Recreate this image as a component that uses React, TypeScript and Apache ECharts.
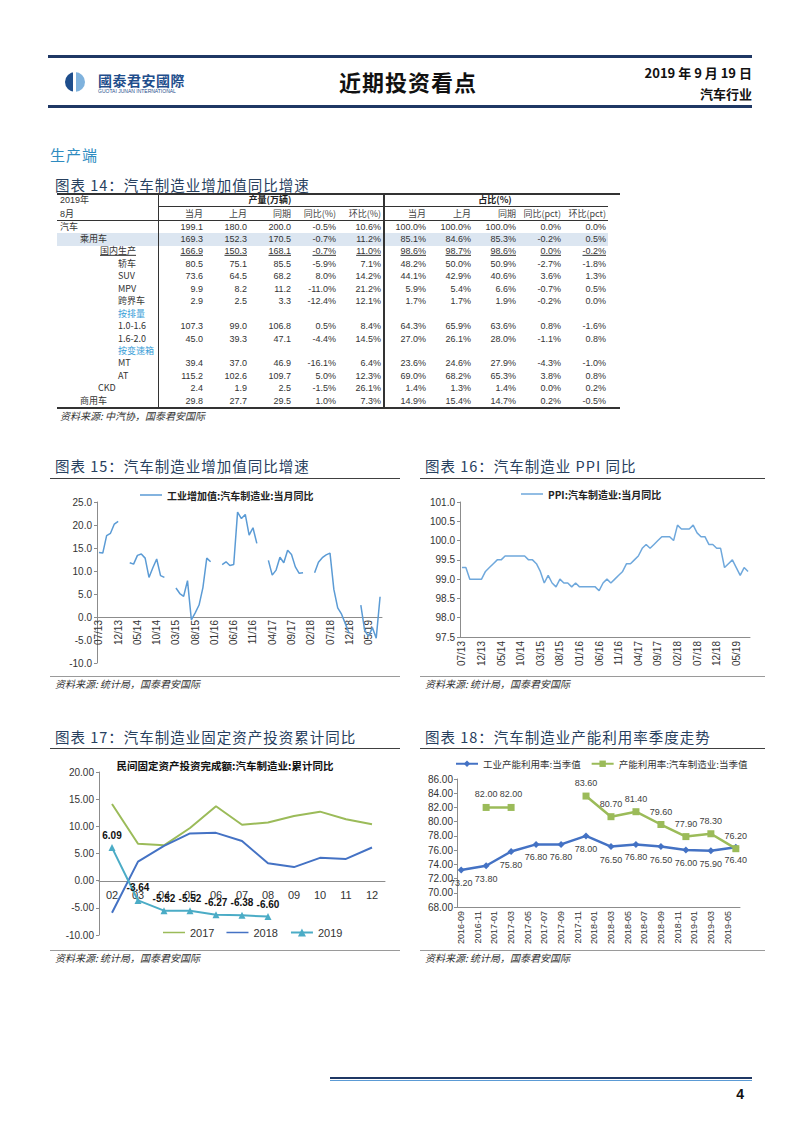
import React, { useEffect, useRef } from 'react';
import * as echarts from 'echarts';

const CJK = '"Noto Sans CJK SC", sans-serif';
const NUM = '"Liberation Sans", "Noto Sans CJK SC", sans-serif';

// ---------------- Table 14 data ----------------
const tableRowLabels = ['汽车', '乘用车', '国内生产', '轿车', 'SUV', 'MPV', '跨界车', '按排量', '1.0-1.6', '1.6-2.0', '按变速箱', 'MT', 'AT', 'CKD', '商用车'];
const prodHeaders = ['当月', '上月', '同期', '同比(%)', '环比(%)'];
const shareHeaders = ['当月', '上月', '同期', '同比(pct)', '环比(pct)'];
const prodThisMonth = [199.1, 169.3, 166.9, 80.5, 73.6, 9.9, 2.9, null, 107.3, 45.0, null, 39.4, 115.2, 2.4, 29.8];
const prodLastMonth = [180.0, 152.3, 150.3, 75.1, 64.5, 8.2, 2.5, null, 99.0, 39.3, null, 37.0, 102.6, 1.9, 27.7];
const prodLastYear = [200.0, 170.5, 168.1, 85.5, 68.2, 11.2, 3.3, null, 106.8, 47.1, null, 46.9, 109.7, 2.5, 29.5];
const prodYoY = [-0.5, -0.7, -0.7, -5.9, 8.0, -11.0, -12.4, null, 0.5, -4.4, null, -16.1, 5.0, -1.5, 1.0];
const prodMoM = [10.6, 11.2, 11.0, 7.1, 14.2, 21.2, 12.1, null, 8.4, 14.5, null, 6.4, 12.3, 26.1, 7.3];
const shareThisMonth = [100.0, 85.1, 98.6, 48.2, 44.1, 5.9, 1.7, null, 64.3, 27.0, null, 23.6, 69.0, 1.4, 14.9];
const shareLastMonth = [100.0, 84.6, 98.7, 50.0, 42.9, 5.4, 1.7, null, 65.9, 26.1, null, 24.6, 68.2, 1.3, 15.4];
const shareLastYear = [100.0, 85.3, 98.6, 50.9, 40.6, 6.6, 1.9, null, 63.6, 28.0, null, 27.9, 65.3, 1.4, 14.7];
const shareYoY = [0.0, -0.2, 0.0, -2.7, 3.6, -0.7, -0.2, null, 0.8, -1.1, null, -4.3, 3.8, 0.0, 0.2];
const shareMoM = [0.0, 0.5, -0.2, -1.8, 1.3, 0.5, 0.0, null, -1.6, 0.8, null, -1.0, 0.8, 0.2, -0.5];

// layout for the table (positions, not data)
const rowLabelX = [60, 80, 100, 118, 118, 118, 118, 118, 118, 118, 118, 118, 118, 98, 80];
const prodColX = [203, 247, 291, 336, 381];
const shareColX = [426, 471, 516, 561, 606];

// ---------------- Chart 15 / 16 data ----------------
function monthLabels(y0: number, m0: number, n: number, style: 'mmyy' | 'yyyymm') {
  const out: string[] = [];
  let y = y0, m = m0;
  for (let i = 0; i < n; i++) {
    const mm = String(m).padStart(2, '0');
    out.push(style === 'mmyy' ? `${mm}/${String(y).slice(2)}` : `${y}-${mm}`);
    m++;
    if (m > 12) { m = 1; y++; }
  }
  return out;
}
const monthly = monthLabels(2013, 7, 74, 'mmyy');
const ivaName = '工业增加值:汽车制造业:当月同比';
const ivaYoY = [
  14.0, 13.9, 17.7, 18.2, 20.2, 20.8,
  null, null, 11.8, 11.5, 13.4, 13.7, 12.8, 8.6, 10.7, 12.6, 9.0, 8.6,
  null, null, 6.3, 5.1, 4.5, 7.9, -0.6, 0.9, 2.6, 6.4, 12.8, 12.0,
  null, null, 11.4, 12.0, 11.2, 11.4, 22.8, 21.4, 22.3, 17.8, 19.4, 16.0,
  null, null, 12.3, 9.1, 10.2, 13.0, 11.8, 14.5, 13.6, 10.9, 9.5, 9.6,
  null, null, 9.6, 11.9, 12.9, 13.5, 13.9, 6.0, 2.0, 0.6, -1.5, -3.6,
  null, null, 2.6, -2.9, -4.2, -2.3, -4.6, 4.4,
];
const ppiName = 'PPI:汽车制造业:当月同比';
const ppiYoY = [
  99.3, 99.3, 99.0, 99.0, 99.0, 99.0,
  99.2, 99.3, 99.4, 99.5, 99.5, 99.6, 99.6, 99.6, 99.6, 99.6, 99.6, 99.5,
  99.5, 99.4, 99.2, 98.9, 99.1, 98.9, 98.8, 99.0, 98.9, 98.9, 98.8, 98.9,
  98.8, 98.8, 98.8, 98.8, 98.8, 98.7, 98.9, 99.0, 98.9, 99.0, 99.1, 99.2,
  99.4, 99.4, 99.5, 99.6, 99.8, 99.9, 99.8, 99.9, 100.0, 100.1, 100.1, 100.1,
  100.0, 100.4, 100.3, 100.3, 100.3, 100.4, 100.2, 100.1, 100.1, 99.9, 99.9, 99.8,
  99.8, 99.3, 99.4, 99.5, 99.3, 99.1, 99.3, 99.2,
];

// ---------------- Chart 17 data ----------------
const fiTitle = '民间固定资产投资完成额:汽车制造业:累计同比';
const fiMonths = ['02', '03', '04', '05', '06', '07', '08', '09', '10', '11', '12'];
const fi2017 = [14.1, 6.8, 6.5, 9.7, 13.7, 10.3, 10.7, 11.9, 12.7, 11.3, 10.4];
const fi2018 = [-5.9, 3.5, 6.4, 8.7, 8.8, 7.3, 3.2, 2.5, 4.2, 4.0, 6.1];
const fi2019 = [6.09, -3.64, -5.52, -5.52, -6.27, -6.38, -6.60];

// ---------------- Chart 18 data ----------------
const cuMonths = monthLabels(2016, 9, 34, 'yyyymm');
const cuQuarters = ['2016-09', '2016-12', '2017-03', '2017-06', '2017-09', '2017-12', '2018-03', '2018-06', '2018-09', '2018-12', '2019-03', '2019-06'];
const industryName = '工业产能利用率:当季值';
const autoName = '产能利用率:汽车制造业:当季值';
const industryUtil = [73.2, 73.8, 75.8, 76.8, 76.8, 78.0, 76.5, 76.8, 76.5, 76.0, 75.9, 76.4];
const autoUtil = [null, 82.0, 82.0, null, null, 83.6, 80.7, 81.4, 79.6, 77.9, 78.3, 76.2];

// ---------------- options ----------------
const axisGrey = '#8c8c8c';
const labelColor = '#333';
// a plain line legend icon (zero-area points keep the box 22x10)
const LINE_ICON = 'path://M0,0L0.01,0M0,4.2L22,4.2L22,5.8L0,5.8ZM0,10L0.01,10';

const option15 = {
  animation: false,
  textStyle: { fontFamily: NUM },
  legend: {
    top: 5, left: 85, itemWidth: 22, itemHeight: 10,
    textStyle: { fontFamily: CJK, fontSize: 10, fontWeight: 'bold', color: '#222' },
    data: [{ name: ivaName, icon: LINE_ICON }],
  },
  grid: { left: 47, top: 22, width: 285, height: 161, outerBoundsMode: 'none', containLabel: false },
  xAxis: {
    type: 'category', data: monthly, boundaryGap: true,
    offset: -46,
    axisLine: { onZero: false, lineStyle: { color: axisGrey } },
    axisTick: { show: false },
    axisLabel: { rotate: 90, interval: 4, fontSize: 10, color: labelColor, margin: 3 },
  },
  yAxis: {
    type: 'value', min: -10, max: 25, interval: 5,
    splitLine: { show: false },
    axisLine: { show: true, lineStyle: { color: axisGrey } },
    axisTick: { show: true, length: 3 },
    axisLabel: { formatter: (v: number) => v.toFixed(1), fontSize: 10, color: labelColor, margin: 5 },
  },
  series: [{
    type: 'line', name: ivaName, data: ivaYoY, symbol: 'none', connectNulls: false,
    lineStyle: { color: '#5B9BD5', width: 1.5 }, itemStyle: { color: '#5B9BD5' },
  }],
};

const option16 = {
  animation: false,
  textStyle: { fontFamily: NUM },
  legend: {
    top: 4, left: 96, itemWidth: 22, itemHeight: 10,
    textStyle: { fontFamily: CJK, fontSize: 10, fontWeight: 'bold', color: '#222' },
    data: [{ name: ppiName, icon: LINE_ICON }],
  },
  grid: { left: 40, top: 22, width: 290, height: 135, outerBoundsMode: 'none', containLabel: false },
  xAxis: {
    type: 'category', data: monthly, boundaryGap: true,
    axisLine: { lineStyle: { color: axisGrey } },
    axisTick: { show: false },
    axisLabel: { rotate: 90, interval: 4, fontSize: 10, color: labelColor, margin: 4 },
  },
  yAxis: {
    type: 'value', min: 97.5, max: 101, interval: 0.5,
    splitLine: { show: false },
    axisLine: { show: true, lineStyle: { color: axisGrey } },
    axisTick: { show: true, length: 3 },
    axisLabel: { formatter: (v: number) => v.toFixed(1), fontSize: 10, color: labelColor, margin: 5 },
  },
  series: [{
    type: 'line', name: ppiName, data: ppiYoY, symbol: 'none',
    lineStyle: { color: '#6FA8DC', width: 1.5 }, itemStyle: { color: '#6FA8DC' },
  }],
};

const option17 = {
  animation: false,
  textStyle: { fontFamily: NUM },
  title: {
    text: fiTitle, left: 'center', top: 5,
    textStyle: { fontFamily: CJK, fontSize: 10.5, fontWeight: 'bold', color: '#111' },
  },
  legend: {
    top: 172, left: 108, itemWidth: 22, itemHeight: 10, itemGap: 12,
    textStyle: { fontSize: 11, color: labelColor },
    data: [{ name: '2017', icon: LINE_ICON }, { name: '2018', icon: LINE_ICON }, '2019'],
  },
  grid: { left: 49, top: 22, width: 286, height: 163, outerBoundsMode: 'none', containLabel: false },
  xAxis: {
    type: 'category', data: fiMonths, boundaryGap: true,
    offset: -54,
    axisLine: { onZero: false, lineStyle: { color: axisGrey } },
    axisTick: { show: false },
    axisLabel: { fontSize: 11, color: labelColor, margin: 8 },
  },
  yAxis: {
    type: 'value', min: -10, max: 20, interval: 5,
    splitLine: { show: false },
    axisLine: { show: true, lineStyle: { color: axisGrey } },
    axisTick: { show: true, length: 3 },
    axisLabel: { formatter: (v: number) => v.toFixed(2), fontSize: 10, color: labelColor, margin: 5 },
  },
  series: [
    { type: 'line', name: '2017', data: fi2017, symbol: 'none', lineStyle: { color: '#9BBB59', width: 2 }, itemStyle: { color: '#9BBB59' } },
    { type: 'line', name: '2018', data: fi2018, symbol: 'none', lineStyle: { color: '#4472C4', width: 2 }, itemStyle: { color: '#4472C4' } },
    {
      type: 'line', name: '2019', data: fi2019, symbol: 'triangle', symbolSize: 7, showAllSymbol: true,
      lineStyle: { color: '#4BACC6', width: 2 }, itemStyle: { color: '#4BACC6' },
      labelLayout: { hideOverlap: false },
      label: {
        show: true, position: 'top', distance: 4, fontSize: 10, fontWeight: 'bold', color: '#111',
        formatter: (p: any) => Number(p.value).toFixed(2),
      },
    },
  ],
};

const industrySeriesData = cuMonths.map((m) => {
  const qi = cuQuarters.indexOf(m);
  return qi >= 0 ? industryUtil[qi] : null;
});
const autoSegments: number[][] = [];
{
  let cur: number[] | null = null;
  autoUtil.forEach((v, i) => {
    if (v == null) { cur = null; return; }
    if (!cur) { cur = []; autoSegments.push(cur); }
    cur.push(i);
  });
}
const valueLabel = (pos: string) => ({
  show: true, position: pos, distance: 5, fontSize: 9, color: '#404040',
  formatter: (p: any) => Number(p.value).toFixed(2),
});
const autoSeries = autoSegments.map((seg) => ({
  type: 'line', name: autoName, connectNulls: true, showAllSymbol: true,
  data: cuMonths.map((m) => {
    const qi = cuQuarters.indexOf(m);
    return qi >= 0 && seg.includes(qi) ? autoUtil[qi] : null;
  }),
  symbol: 'rect', symbolSize: 7,
  lineStyle: { color: '#9BBB59', width: 2.5 }, itemStyle: { color: '#9BBB59' },
  labelLayout: { hideOverlap: false },
  label: valueLabel('top'),
}));

const option18 = {
  animation: false,
  textStyle: { fontFamily: NUM },
  legend: {
    top: 4, left: 30, itemWidth: 22, itemHeight: 8, itemGap: 10,
    textStyle: { fontFamily: CJK, fontSize: 9.5, color: labelColor },
    data: [industryName, autoName],
  },
  grid: { left: 37, top: 29, width: 283, height: 128, outerBoundsMode: 'none', containLabel: false },
  xAxis: {
    type: 'category', data: cuMonths, boundaryGap: true,
    axisLine: { lineStyle: { color: axisGrey } },
    axisTick: { show: false },
    axisLabel: { rotate: 90, interval: 1, fontSize: 9, color: labelColor, margin: 4 },
  },
  yAxis: {
    type: 'value', min: 68, max: 86, interval: 2,
    splitLine: { show: false },
    axisLine: { show: true, lineStyle: { color: axisGrey } },
    axisTick: { show: true, length: 3 },
    axisLabel: { formatter: (v: number) => v.toFixed(2), fontSize: 10, color: labelColor, margin: 4 },
  },
  series: [
    {
      type: 'line', name: industryName, data: industrySeriesData, connectNulls: true, showAllSymbol: true,
      symbol: 'diamond', symbolSize: 7,
      lineStyle: { color: '#4472C4', width: 2.5 }, itemStyle: { color: '#4472C4' },
      labelLayout: { hideOverlap: false },
      label: valueLabel('bottom'),
    },
    ...autoSeries,
  ],
};

// ---------------- components ----------------
function EChart({ option, left, top, width, height }: any) {
  const ref = useRef<HTMLDivElement>(null);
  useEffect(() => {
    const chart = echarts.init(ref.current as HTMLDivElement, null, { renderer: 'svg' });
    chart.setOption(option);
    return () => chart.dispose();
  }, [option]);
  return <div ref={ref} style={{ position: 'absolute', left, top, width, height }} />;
}

function T({ x, y, a = 'l', s = 10, c = '#333', w = 400, f = NUM, i = false, u = false, ls = 0, children }: any) {
  const tx = a === 'l' ? '0' : a === 'c' ? '-50%' : '-100%';
  return (
    <div style={{
      position: 'absolute', left: x, top: y, transform: `translate(${tx}, -50%)`,
      fontSize: s, color: c, fontWeight: w, fontFamily: f, whiteSpace: 'nowrap', lineHeight: 1.15,
      fontStyle: i ? 'italic' : 'normal', textDecoration: u ? 'underline' : 'none', letterSpacing: ls,
    }}>{children}</div>
  );
}

function HL({ x1, x2, y, t = 1, c = '#333' }: any) {
  return <div style={{ position: 'absolute', left: x1, top: y, width: x2 - x1, height: t, background: c }} />;
}
function VL({ x, y1, y2, t = 1, c = '#333' }: any) {
  return <div style={{ position: 'absolute', left: x, top: y1, width: t, height: y2 - y1, background: c }} />;
}

const titleColor = '#27405e';
const srcText = '资料来源: 统计局，国泰君安国际';

function ChartFrame({ x1, x2, titleY, title, lineY, srcLineY }: any) {
  return (
    <>
      <T x={x1 + 5} y={titleY} s={14.5} c={titleColor} f={CJK} ls={1}>{title}</T>
      <HL x1={x1} x2={x2} y={lineY} t={1} c="#404040" />
      <HL x1={x1} x2={x2} y={srcLineY} t={1} c="#9a9a9a" />
      <T x={x1 + 5} y={srcLineY + 8} s={10} c="#333" f={CJK} i>{srcText}</T>
    </>
  );
}

const fmt1 = (v: number | null) => (v == null ? '' : v.toFixed(1));
const pct1 = (v: number | null) => (v == null ? '' : v.toFixed(1) + '%');

export default function App() {
  const rowY = (i: number) => 226.5 + i * 12.45;
  const prodCols = [prodThisMonth, prodLastMonth, prodLastYear, prodYoY, prodMoM];
  const prodFmt = [fmt1, fmt1, fmt1, pct1, pct1];
  const shareCols = [shareThisMonth, shareLastMonth, shareLastYear, shareYoY, shareMoM];
  const blueRows = ['按排量', '按变速箱'];

  return (
    <div style={{ position: 'absolute', left: 0, top: 0, width: 802, height: 1133, background: '#fff', overflow: 'hidden' }}>
      {/* header */}
      <HL x1={48} x2={752} y={55} t={3} c="#1F3864" />
      <HL x1={48} x2={752} y={105} t={3} c="#1F3864" />
      <div style={{
        position: 'absolute', left: 65, top: 72, width: 20, height: 20, borderRadius: '50%',
        background: 'linear-gradient(90deg, #1E4E8C 0 42%, #ffffff 42% 56%, #7FB2DD 56% 100%)',
      }} />
      <T x={98} y={80} s={14} w={700} c="#1F4E8C" f={CJK} ls={0.5}>國泰君安國際</T>
      <T x={98} y={92} s={5} c="#1F4E8C">GUOTAI JUNAN INTERNATIONAL</T>
      <T x={408} y={82} a="c" s={22} w={700} c="#111" f={CJK} ls={1}>近期投资看点</T>
      <T x={752} y={73} a="r" s={13} w={700} c="#111" f={CJK}>2019 年 9 月 19 日</T>
      <T x={752} y={94} a="r" s={13} w={700} c="#111" f={CJK}>汽车行业</T>

      <T x={50} y={155} s={15} c="#2E8BC0" f={CJK} ls={1}>生产端</T>

      {/* table 14 */}
      <T x={55} y={185} s={14.5} c={titleColor} f={CJK} ls={1}>图表 14：汽车制造业增加值同比增速</T>
      <div style={{ position: 'absolute', left: 57, top: 233, width: 551, height: 12.5, background: '#DCE6F1' }} />
      <HL x1={57} x2={620} y={193} t={1.5} c="#333" />
      <HL x1={158} x2={383} y={206} t={1} c="#333" />
      <HL x1={384} x2={608} y={206} t={1} c="#333" />
      <HL x1={57} x2={608} y={220} t={1} c="#333" />
      <HL x1={57} x2={620} y={407} t={1.5} c="#333" />
      <VL x={158} y1={193} y2={408} t={1} c="#333" />
      <VL x={383} y1={193} y2={408} t={1.5} c="#333" />
      <T x={60} y={200} s={9} c="#333" f={NUM}>2019年</T>
      <T x={60} y={213.5} s={9} c="#333" f={NUM}>8月</T>
      <T x={270} y={200} a="c" s={9} w={700} c="#222" f={CJK}>产量(万辆)</T>
      <T x={495} y={200} a="c" s={9} w={700} c="#222" f={CJK}>占比(%)</T>
      {prodHeaders.map((h, k) => (
        <T key={'ph' + k} x={prodColX[k]} y={213.5} a="r" s={9} c="#444" f={CJK}>{h}</T>
      ))}
      {shareHeaders.map((h, k) => (
        <T key={'sh' + k} x={shareColX[k]} y={213.5} a="r" s={9} c="#444" f={CJK}>{h}</T>
      ))}
      {tableRowLabels.map((lab, r) => (
        <React.Fragment key={'row' + r}>
          <T x={rowLabelX[r]} y={rowY(r)} s={9} c={blueRows.includes(lab) ? '#3AA0D8' : '#333'} f={CJK} u={r === 2}>{lab}</T>
          {prodCols.map((col, k) => (
            <T key={'p' + k} x={prodColX[k]} y={rowY(r)} a="r" s={9} c="#333" u={r === 2}>{prodFmt[k](col[r])}</T>
          ))}
          {shareCols.map((col, k) => (
            <T key={'s' + k} x={shareColX[k]} y={rowY(r)} a="r" s={9} c="#333" u={r === 2}>{pct1(col[r])}</T>
          ))}
        </React.Fragment>
      ))}
      <T x={60} y={416} s={10} c="#333" f={CJK} i>资料来源: 中汽协，国泰君安国际</T>

      {/* chart frames */}
      <ChartFrame x1={50} x2={400} titleY={466} title="图表 15：汽车制造业增加值同比增速" lineY={478} srcLineY={676} />
      <ChartFrame x1={420} x2={765} titleY={466} title="图表 16：汽车制造业 PPI 同比" lineY={478} srcLineY={676} />
      <ChartFrame x1={50} x2={400} titleY={737} title="图表 17：汽车制造业固定资产投资累计同比" lineY={748} srcLineY={950} />
      <ChartFrame x1={420} x2={765} titleY={737} title="图表 18：汽车制造业产能利用率季度走势" lineY={748} srcLineY={950} />

      <EChart option={option15} left={50} top={480} width={350} height={195} />
      <EChart option={option16} left={420} top={480} width={345} height={195} />
      <EChart option={option17} left={50} top={750} width={350} height={199} />
      <EChart option={option18} left={420} top={750} width={345} height={199} />

      {/* footer */}
      <HL x1={330} x2={752} y={1077} t={2} c="#1F3864" />
      <HL x1={330} x2={752} y={1080} t={1} c="#5B9BD5" />
      <T x={744} y={1094} a="r" s={14} w={700} c="#111">4</T>
    </div>
  );
}
